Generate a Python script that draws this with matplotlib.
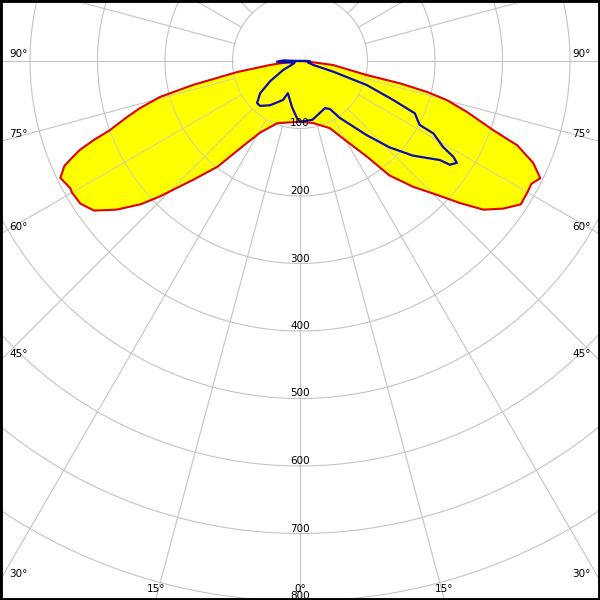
import numpy as np
import matplotlib
matplotlib.use('Agg')
import matplotlib.pyplot as plt
from matplotlib.patches import Rectangle

# red plane (filled yellow), gamma in degrees from nadir, intensity in cd
red_left_deg = [0, 20, 29, 33, 38, 42, 46, 48, 51, 54, 57, 60, 61, 64, 66, 67, 68, 69, 70,
                72, 73.6, 75.6, 77.4, 80, 82.4, 84, 87, 90]
red_left_cd = [90, 98, 121, 145, 199, 237, 289, 317, 350, 377, 388, 390, 389, 395, 382, 367,
               352, 328, 300, 270, 247, 214, 162, 95, 45, 22, 6, 0]
red_right_deg = [0, 12, 24, 29, 35, 38, 42, 45.6, 48.4, 51, 54, 57, 60, 62, 64, 66.4, 68.8,
                 70.3, 73, 75.1, 76.3, 77.4, 78.1, 83.1, 85, 88, 90]
red_right_cd = [90, 94, 109, 131, 173, 215, 251, 283, 317, 350, 372, 390, 389, 388, 396, 377,
                345, 304, 259, 225, 194, 152, 101, 49, 15, 4, 0]

# blue plane
blue_left_deg = [0, 3, 10, 20.6, 23.6, 34, 41.6, 45.7, 47, 51, 56, 62, 67, 75, 85, 88, 92, 97]
blue_left_cd = [90, 85, 69, 51, 63, 79, 89, 89, 85, 76, 53, 28, 11, 8, 25, 34, 25, 0]
blue_right_deg = [0, 12, 28, 32, 35, 42, 46, 50, 54.7, 55.3, 57, 58, 59, 61.5, 61.9, 62.8,
                  65.5, 67.3, 70.2, 72.2, 73.3, 80, 88, 92, 97]
blue_right_cd = [90, 89, 79, 84, 103, 148, 184, 218, 254, 270, 277, 268, 247, 225, 201, 197,
                 187, 150, 105, 52, 21, 12, 15, 8, 0]

rings = [100, 200, 300, 400, 500, 600, 700, 800]
side_angles = [90, 75, 60, 45, 30]
bottom_angles = [15, 0]

W = 600
cx, cy = 300, 61          # pole position in pixels (from top)
px_per_cd = 0.675
rmax = 1000
grid_c = '#c4c4c4'
grid_on_fill = '#d6d68e'
fs = 7.5

fig = plt.figure(figsize=(6, 6), dpi=100)
size = 2 * rmax * px_per_cd / W
ax = fig.add_axes([(cx - rmax * px_per_cd) / W, (W - cy - rmax * px_per_cd) / W, size, size],
                  projection='polar')
ax.set_theta_zero_location('S')
ax.set_ylim(0, rmax)
ax.grid(False)
ax.set_xticks([])
ax.set_yticks([])
ax.spines['polar'].set_visible(False)

t_red = np.deg2rad(np.concatenate([-np.array(red_left_deg)[::-1], red_right_deg]))
r_red = np.concatenate([np.array(red_left_cd)[::-1], red_right_cd])
poly = ax.fill(t_red, r_red, color='#ffff00', zorder=2, lw=0)[0]


def draw_grid(color, z, clip=None):
    th = np.linspace(0, 2 * np.pi, 1441)
    lines = []
    for r in rings:
        lines += ax.plot(th, np.full_like(th, r), color=color, lw=0.8, zorder=z)
    for a in range(0, 360, 15):
        t = np.deg2rad(a)
        lines += ax.plot([t, t], [rings[0], rmax], color=color, lw=0.8, zorder=z)
    if clip is not None:
        for ln in lines:
            ln.set_clip_path(clip)


draw_grid(grid_c, 1)
draw_grid(grid_on_fill, 2.5, clip=poly)

ax.plot(t_red, r_red, color='#e00000', lw=1.5, zorder=3)

t_blue = np.deg2rad(np.concatenate([-np.array(blue_left_deg)[::-1], blue_right_deg]))
r_blue = np.concatenate([np.array(blue_left_cd)[::-1], blue_right_cd])
ax.plot(t_blue, r_blue, color='#0c0cb4', lw=1.6, zorder=4)

# intensity labels along nadir
for r in rings:
    ax.text(0, r, str(r), ha='center', va='bottom', fontsize=fs, zorder=5)

# angle labels at the frame
for a in side_angles:
    y = cy + cx / np.tan(np.deg2rad(a)) - 7
    fig.text(9 / W, 1 - y / W, f'{a}°', ha='left', va='center', fontsize=fs)
    fig.text(591 / W, 1 - y / W, f'{a}°', ha='right', va='center', fontsize=fs)
for a in bottom_angles:
    dx = (W - cy) * np.tan(np.deg2rad(a))
    for x in sorted({cx - dx, cx + dx}):
        fig.text(x / W, 1 - 589 / W, f'{a}°', ha='center', va='center', fontsize=fs)

fig.add_artist(Rectangle((0, 0), 1, 1, transform=fig.transFigure, fill=False,
                         lw=3.5, edgecolor='black', zorder=10))

fig.savefig('out.png', dpi=100)
